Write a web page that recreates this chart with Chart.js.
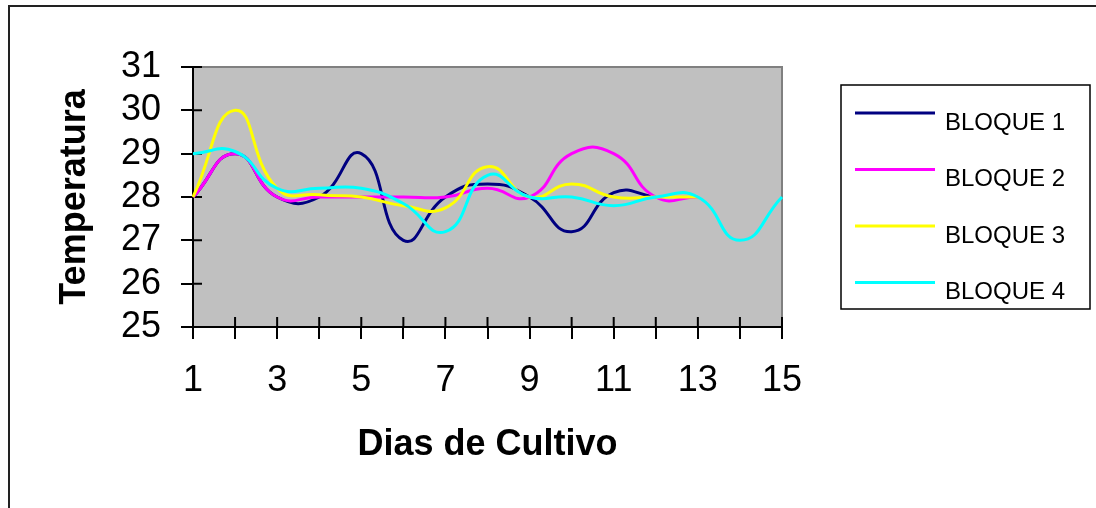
<!DOCTYPE html>
<html>
<head>
<meta charset="utf-8">
<script src="https://cdn.jsdelivr.net/npm/chart.js@4/dist/chart.umd.min.js"></script>
<style>
  html, body { margin: 0; padding: 0; background: #ffffff; }
  #wrap { width: 1096px; height: 508px; }
</style>
</head>
<body>
<div id="wrap"><canvas id="c" width="1096" height="508"></canvas></div>
<script>
// Días de cultivo (eje X)
const dias = ['1','2','3','4','5','6','7','8','9','10','11','12','13','14','15'];

// Temperatura diaria por bloque
const bloque1 = [28, 29, 28, 28, 29, 27, 28, 28.3, 28, 27.2, 28.1, 28];
const bloque2 = [28, 29, 28, 28, 28, 28, 28, 28.2, 28, 29, 29, 28, 28];
const bloque3 = [28, 30, 28.2, 28.05, 28, 27.8, 27.75, 28.7, 28, 28.3, 28, 28, 28];
const bloque4 = [29, 29.05, 28.2, 28.2, 28.2, 27.85, 27.2, 28.5, 28, 28, 27.8, 28, 28, 27, 28];

const nombres = ['BLOQUE 1', 'BLOQUE 2', 'BLOQUE 3', 'BLOQUE 4'];
const colores = ['#000080', '#FF00FF', '#FFFF00', '#00FFFF'];
const series = [bloque1, bloque2, bloque3, bloque4];

// Eje Y
const yMin = 25, yMax = 31, yPaso = 1;

const FONT = "Arial, 'Liberation Sans', sans-serif";

// Fondo, marco exterior y área de trazado gris
const fondo = {
  id: 'fondo',
  beforeDraw(chart) {
    const ctx = chart.ctx;
    const a = chart.chartArea;
    ctx.save();
    ctx.fillStyle = '#ffffff';
    ctx.fillRect(0, 0, chart.width, chart.height);
    // marco exterior (borde superior e izquierdo)
    ctx.strokeStyle = '#222222';
    ctx.lineWidth = 2;
    ctx.beginPath();
    ctx.moveTo(9, chart.height);
    ctx.lineTo(9, 6);
    ctx.lineTo(chart.width, 6);
    ctx.stroke();
    // área de trazado
    ctx.fillStyle = '#C0C0C0';
    ctx.fillRect(a.left, a.top, a.right - a.left, a.bottom - a.top);
    ctx.restore();
  },
  beforeDatasetsDraw(chart) {
    const ctx = chart.ctx;
    const a = chart.chartArea;
    ctx.save();
    // bordes superior y derecho del área
    ctx.strokeStyle = '#808080';
    ctx.lineWidth = 2;
    ctx.beginPath();
    ctx.moveTo(a.left, a.top);
    ctx.lineTo(a.right, a.top);
    ctx.lineTo(a.right, a.bottom);
    ctx.stroke();
    // parte interior de las marcas de los ejes
    ctx.strokeStyle = '#000000';
    ctx.lineWidth = 2;
    const sx = chart.scales.x, sy = chart.scales.y;
    ctx.beginPath();
    sx.ticks.forEach((t, i) => {
      const px = sx.getPixelForTick(i);
      ctx.moveTo(px, a.bottom);
      ctx.lineTo(px, a.bottom - 10);
    });
    sy.ticks.forEach((t, i) => {
      const py = sy.getPixelForTick(i);
      ctx.moveTo(a.left, py);
      ctx.lineTo(a.left + 9, py);
    });
    ctx.stroke();
    ctx.restore();
  }
};

// Leyenda con recuadro a la derecha
const leyenda = {
  id: 'leyenda',
  afterDraw(chart) {
    const ctx = chart.ctx;
    const x0 = 841, y0 = 85, w = 249, h = 224;
    ctx.save();
    ctx.strokeStyle = '#000000';
    ctx.lineWidth = 1.5;
    ctx.strokeRect(x0, y0, w, h);
    ctx.font = '24px ' + FONT;
    ctx.textAlign = 'left';
    ctx.textBaseline = 'middle';
    chart.data.datasets.forEach((ds, i) => {
      const yl = y0 + 28 + i * 56.5;
      ctx.strokeStyle = ds.borderColor;
      ctx.lineWidth = 3;
      ctx.beginPath();
      ctx.moveTo(855, yl);
      ctx.lineTo(935, yl);
      ctx.stroke();
      ctx.fillStyle = '#000000';
      ctx.fillText(ds.label, 945, yl + 10);
    });
    ctx.restore();
  }
};

const datasets = series.map((vals, i) => ({
  label: nombres[i],
  data: vals,
  borderColor: colores[i],
  backgroundColor: colores[i],
  borderWidth: 3,
  pointRadius: 0,
  tension: 0.5,
  fill: false,
  order: 3 - i
}));

new Chart(document.getElementById('c'), {
  type: 'line',
  data: { labels: dias, datasets },
  plugins: [fondo, leyenda],
  options: {
    responsive: false,
    devicePixelRatio: 1,
    animation: false,
    layout: { padding: { left: 50, top: 67, right: 314, bottom: 40 } },
    plugins: {
      legend: { display: false },
      tooltip: { enabled: false }
    },
    scales: {
      x: {
        type: 'category',
        offset: false,
        afterFit(scale) { scale.height = 141; },
        border: { display: true, color: '#000000', width: 2 },
        grid: { drawOnChartArea: false, drawTicks: true, tickLength: 12, color: '#000000', lineWidth: 2 },
        ticks: {
          autoSkip: false,
          maxRotation: 0,
          padding: 20,
          color: '#000000',
          font: { family: FONT, size: 36 },
          callback(value, index) { return index % 2 === 0 ? this.getLabelForValue(value) : ''; }
        },
        title: {
          display: true,
          text: 'Dias de Cultivo',
          color: '#000000',
          font: { family: FONT, size: 36, weight: 'bold', lineHeight: 1 },
          padding: { top: 0, bottom: 5 }
        }
      },
      y: {
        min: yMin,
        max: yMax,
        afterFit(scale) { scale.width = 143; },
        border: { display: true, color: '#000000', width: 2 },
        grid: { drawOnChartArea: false, drawTicks: true, tickLength: 12, color: '#000000', lineWidth: 2 },
        ticks: {
          stepSize: yPaso,
          autoSkip: false,
          padding: 20,
          color: '#000000',
          font: { family: FONT, size: 36, lineHeight: 1 }
        },
        title: {
          display: true,
          text: 'Temperatura',
          color: '#000000',
          font: { family: FONT, size: 36, weight: 'bold', lineHeight: 1 },
          padding: { top: 7, bottom: 0 }
        }
      }
    }
  }
});
</script>
</body>
</html>
